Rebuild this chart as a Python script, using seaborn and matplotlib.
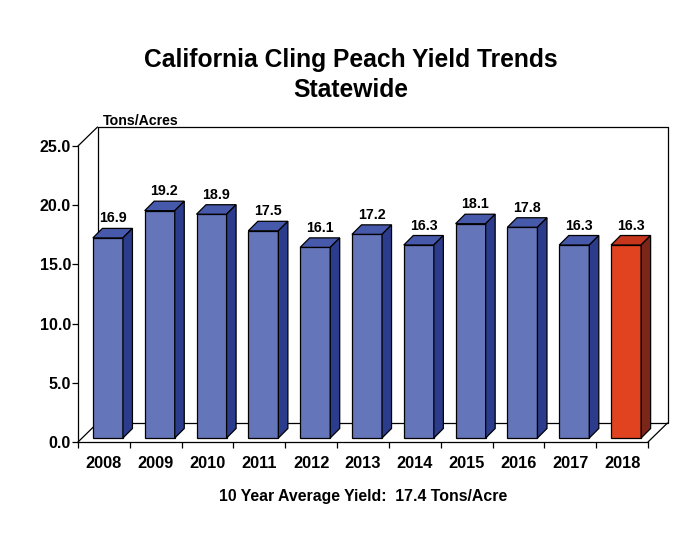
import matplotlib
matplotlib.use("Agg")
import matplotlib.pyplot as plt
import seaborn as sns
import pandas as pd
from matplotlib.patches import Polygon

years = ["2008", "2009", "2010", "2011", "2012", "2013", "2014", "2015", "2016", "2017", "2018"]
yields = [16.9, 19.2, 18.9, 17.5, 16.1, 17.2, 16.3, 18.1, 17.8, 16.3, 16.3]
yticks = [0, 5, 10, 15, 20, 25]
title1 = "California Cling Peach Yield Trends"
title2 = "Statewide"
ylabel = "Tons/Acres"
footer = "10 Year Average Yield:  17.4 Tons/Acre"

blue = ("#6475b9", "#4759aa", "#2c3c8c")   # front, top, side
red = ("#e14321", "#c5361c", "#7c2519")
faces = [red if y == "2018" else blue for y in years]

sns.set_theme(style="white")
plt.rcParams['font.family'] = ['Liberation Sans', 'DejaVu Sans']
plt.rcParams['text.color'] = 'black'
plt.rcParams['xtick.color'] = 'black'
plt.rcParams['ytick.color'] = 'black'
plt.rcParams['axes.labelcolor'] = 'black'

df = pd.DataFrame({"year": years, "yield": yields})

fig = plt.figure(figsize=(7.0, 5.41), dpi=100)
ax = fig.add_axes([78/700, 99/541, 570/700, 296/541])

bw = 0.58
sns.barplot(data=df, x="year", y="yield", hue="year",
            palette=[f[0] for f in faces], legend=False, width=bw, saturation=1,
            edgecolor="black", linewidth=0.9, ax=ax, zorder=3)

ax.set_xlim(-0.5, len(years) - 0.5)
ax.set_ylim(0, 25)

# pixel -> data conversions
pxx = 570 / len(years)
pxy = 296 / 25
ox0, oy0 = 4 / pxx, 4 / pxy        # bar position offset into depth
dxb, dyb = 9.5 / pxx, 9.5 / pxy    # bar depth
dxw, dyw = 19.5 / pxx, 19 / pxy    # wall depth

for i, p in enumerate(ax.patches):
    x0 = p.get_x() + ox0
    p.set_x(x0)
    p.set_y(oy0)
    h = p.get_height()
    top = oy0 + h
    front, topc, side = faces[i]
    x1 = x0 + bw
    ax.add_patch(Polygon([(x0, top), (x1, top), (x1 + dxb, top + dyb), (x0 + dxb, top + dyb)],
                         closed=True, facecolor=topc, edgecolor="black", lw=0.9, zorder=3, clip_on=False))
    ax.add_patch(Polygon([(x1, oy0), (x1 + dxb, oy0 + dyb), (x1 + dxb, top + dyb), (x1, top)],
                         closed=True, facecolor=side, edgecolor="black", lw=0.9, zorder=3, clip_on=False))
    p.set_clip_on(False)
    ax.text(x0 + (bw + dxb) / 2, top + dyb + 0.25, f"{h:.1f}", ha="center", va="bottom",
            fontsize=10.3, fontweight="bold", color="black", zorder=5)

# 3D frame
L, R = -0.5, len(years) - 0.5
kw = dict(color="black", lw=0.9, zorder=1, clip_on=False)
ax.plot([L + dxw, R + dxw, R + dxw, L + dxw, L + dxw], [dyw, dyw, 25 + dyw, 25 + dyw, dyw], **kw)
ax.plot([L, L + dxw], [25, 25 + dyw], **kw)
ax.plot([L, L + dxw], [0, dyw], **kw)
ax.plot([R, R + dxw], [0, dyw], **kw)

for s in ["top", "right"]:
    ax.spines[s].set_visible(False)
for s in ["left", "bottom"]:
    ax.spines[s].set_color("black")
    ax.spines[s].set_linewidth(0.9)
    ax.spines[s].set_zorder(4)

ax.set_yticks(yticks)
ax.set_yticklabels([f"{v:.1f}" for v in yticks], fontsize=11.5, fontweight="bold")
ax.tick_params(axis="y", length=4, width=0.9, color="black", direction="out", left=True, pad=1)
ax.set_xticks(range(len(years)))
ax.set_xticklabels(years, fontsize=11.8, fontweight="bold")
ax.tick_params(axis="x", which="major", length=0, pad=10)
ax.set_xticks([i - 0.5 for i in range(len(years) + 1)], minor=True)
ax.tick_params(axis="x", which="minor", length=4.5, width=0.9, color="black", direction="out", bottom=True)
ax.set_xlabel("")
ax.set_ylabel("")

fig.text(351 / 700, 1 - 60 / 541, title1, ha="center", va="center", fontsize=17.7, fontweight="bold")
fig.text(351 / 700, 1 - 90 / 541, title2, ha="center", va="center", fontsize=17.7, fontweight="bold")
fig.text(103 / 700, 1 - 121 / 541, ylabel, ha="left", va="center", fontsize=10.2, fontweight="bold")
fig.text(363 / 700, 1 - 496 / 541, footer, ha="center", va="center", fontsize=11.4, fontweight="bold")

fig.savefig("out.png", dpi=100, facecolor="white")
